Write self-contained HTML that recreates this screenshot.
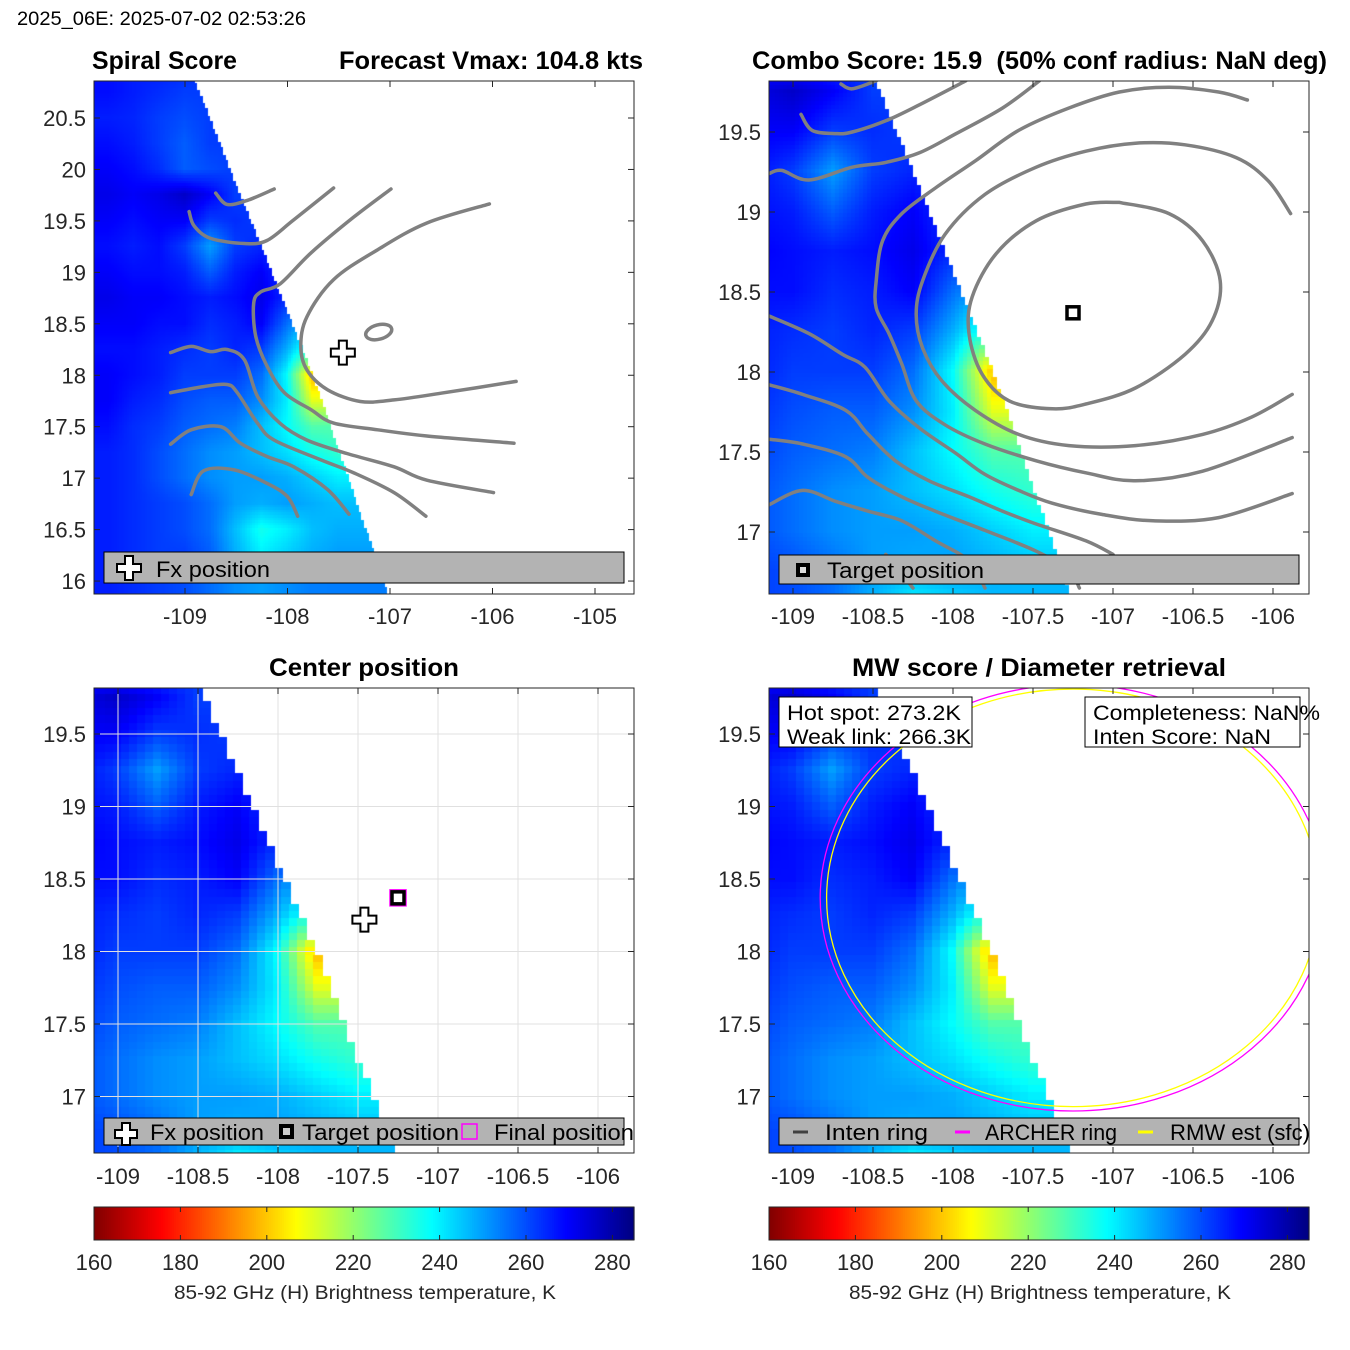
<!DOCTYPE html>
<html><head><meta charset="utf-8">
<style>
html,body{margin:0;padding:0;background:#fff;}
#wrap{position:relative;width:1350px;height:1350px;overflow:hidden;font-family:"Liberation Sans",sans-serif;}
canvas{position:absolute;}
svg{position:absolute;left:0;top:0;}
text{font-family:"Liberation Sans",sans-serif;}
</style></head>
<body>
<div id="wrap">
<canvas id="h1" style="left:94px;top:81px" width="540" height="513"></canvas>
<canvas id="h2" style="left:769px;top:81px" width="540" height="513"></canvas>
<canvas id="h3" style="left:94px;top:688px" width="540" height="465"></canvas>
<canvas id="h4" style="left:769px;top:688px" width="540" height="465"></canvas>
<svg id="s" width="1350" height="1350" xmlns="http://www.w3.org/2000/svg">
<defs>
<clipPath id="c1"><rect x="94" y="81" width="540" height="513"/></clipPath>
<clipPath id="c2"><rect x="769" y="81" width="540" height="513"/></clipPath>
<clipPath id="c3"><rect x="94" y="688" width="540" height="465"/></clipPath>
<clipPath id="c4"><rect x="769" y="688" width="540" height="465"/></clipPath>
</defs>
<text x="17" y="25" font-size="19" textLength="289" lengthAdjust="spacingAndGlyphs">2025_06E: 2025-07-02 02:53:26</text>
<text x="92" y="69" font-size="25" font-weight="bold" textLength="145" lengthAdjust="spacingAndGlyphs">Spiral Score</text>
<text x="339" y="69" font-size="25" font-weight="bold" textLength="304" lengthAdjust="spacingAndGlyphs">Forecast Vmax: 104.8 kts</text>
<text x="752" y="69" font-size="25" font-weight="bold" textLength="575" lengthAdjust="spacingAndGlyphs">Combo Score: 15.9&#160; (50% conf radius: NaN deg)</text>
<text x="269" y="676" font-size="25" font-weight="bold" textLength="190" lengthAdjust="spacingAndGlyphs">Center position</text>
<text x="852" y="676" font-size="25" font-weight="bold" textLength="374" lengthAdjust="spacingAndGlyphs">MW score / Diameter retrieval</text>
<g id="grid3"></g>
<g id="cont1" clip-path="url(#c1)"></g>
<g id="cont2" clip-path="url(#c2)"></g>
<g id="rings" clip-path="url(#c4)"></g>
<g id="ticks"></g>
<g id="marks"></g>
<rect x="94" y="81" width="540" height="513" fill="none" stroke="#262626" stroke-width="1"/>
<rect x="769" y="81" width="540" height="513" fill="none" stroke="#262626" stroke-width="1"/>
<rect x="94" y="688" width="540" height="465" fill="none" stroke="#262626" stroke-width="1"/>
<rect x="769" y="688" width="540" height="465" fill="none" stroke="#262626" stroke-width="1"/>

<g>
<rect x="104" y="552" width="520" height="31" fill="#b3b3b3" stroke="#000" stroke-width="1"/>
<path d="M125 556h8v8h8v8h-8v8h-8v-8h-8v-8h8z" fill="#fff" stroke="#000" stroke-width="2"/>
<text x="156" y="577" font-size="22" textLength="114" lengthAdjust="spacingAndGlyphs">Fx position</text>
</g>
<g>
<rect x="779" y="555" width="520" height="29" fill="#b3b3b3" stroke="#000" stroke-width="1"/>
<rect x="796" y="563" width="14" height="14" fill="#000"/><rect x="800" y="567" width="6" height="6" fill="#ddd"/>
<text x="827" y="578" font-size="22" textLength="157" lengthAdjust="spacingAndGlyphs">Target position</text>
</g>
<g>
<rect x="104" y="1118" width="520" height="27" fill="#b3b3b3" stroke="#000" stroke-width="1"/>
<path d="M122 1123h8v7h7v8h-7v7h-8v-7h-7v-8h7z" fill="#fff" stroke="#000" stroke-width="2"/>
<text x="150" y="1140" font-size="22" textLength="114" lengthAdjust="spacingAndGlyphs">Fx position</text>
<rect x="279" y="1124" width="15" height="15" fill="#000"/><rect x="283" y="1128" width="7" height="7" fill="#ccc"/>
<text x="302" y="1140" font-size="22" textLength="157" lengthAdjust="spacingAndGlyphs">Target position</text>
<rect x="462" y="1124" width="15" height="15" fill="none" stroke="#ff00ff" stroke-width="1.5"/>
<text x="494" y="1140" font-size="22" textLength="140" lengthAdjust="spacingAndGlyphs">Final position</text>
</g>
<g>
<rect x="779" y="1118" width="520" height="27" fill="#b3b3b3" stroke="#000" stroke-width="1"/>
<line x1="793" y1="1132" x2="808" y2="1132" stroke="#404040" stroke-width="3"/>
<text x="825" y="1140" font-size="22" textLength="103" lengthAdjust="spacingAndGlyphs">Inten ring</text>
<line x1="955" y1="1132" x2="970" y2="1132" stroke="#ff00ff" stroke-width="3"/>
<text x="985" y="1140" font-size="22" textLength="132" lengthAdjust="spacingAndGlyphs">ARCHER ring</text>
<line x1="1138" y1="1132" x2="1153" y2="1132" stroke="#ffff00" stroke-width="3"/>
<text x="1170" y="1140" font-size="22" textLength="140" lengthAdjust="spacingAndGlyphs">RMW est (sfc)</text>
</g>
<g>
<rect x="779" y="697" width="193" height="50" fill="#fff" stroke="#000" stroke-width="1"/>
<text x="787" y="720" font-size="21" textLength="174" lengthAdjust="spacingAndGlyphs">Hot spot: 273.2K</text>
<text x="787" y="744" font-size="21" textLength="184" lengthAdjust="spacingAndGlyphs">Weak link: 266.3K</text>
</g>
<g>
<rect x="1085" y="697" width="215" height="50" fill="#fff" stroke="#000" stroke-width="1"/>
<text x="1093" y="720" font-size="21" textLength="227" lengthAdjust="spacingAndGlyphs">Completeness: NaN%</text>
<text x="1093" y="744" font-size="21" textLength="178" lengthAdjust="spacingAndGlyphs">Inten Score: NaN</text>
</g>
<g id="cbars"></g>
<text x="174" y="1299" font-size="19" textLength="382" lengthAdjust="spacingAndGlyphs" fill="#262626">85-92 GHz (H) Brightness temperature, K</text>
<text x="849" y="1299" font-size="19" textLength="382" lengthAdjust="spacingAndGlyphs" fill="#262626">85-92 GHz (H) Brightness temperature, K</text>
</svg>
</div>
<script>
// ---- data ----
const gridLons = [-110,-109.75,-109.5,-109.25,-109,-108.75,-108.5,-108.25,-108,-107.75,-107.5,-107.25,-107];
const gridLats = [21,20.75,20.5,20.25,20,19.75,19.5,19.25,19,18.75,18.5,18.25,18,17.75,17.5,17.25,17,16.75,16.5,16.25,16];
const gridTemps = [
[268,268,266,266,265,264,264,264,264,264,264,264,264],
[268,268,266,264,262,262,262,262,262,262,262,262,262],
[266,266,265,262,260,262,262,262,262,262,262,262,262],
[268,268,266,262,258,262,262,262,262,262,262,262,262],
[270,270,268,264,258,260,262,262,262,262,262,262,262],
[272,272,270,272,276,270,262,262,262,262,262,262,262],
[270,270,268,270,270,262,264,262,262,262,262,262,262],
[268,268,266,268,262,250,262,265,262,262,262,262,262],
[270,270,268,268,266,258,266,270,262,260,260,260,260],
[272,272,270,270,268,266,268,272,264,258,258,258,258],
[270,270,270,268,268,264,266,270,256,244,244,244,244],
[268,268,268,266,264,262,265,262,248,230,230,230,230],
[270,270,268,266,262,262,262,256,238,198,198,198,198],
[270,270,266,264,260,258,258,252,240,210,210,210,210],
[268,268,264,262,258,256,254,246,238,228,228,228,228],
[266,266,264,260,256,252,250,246,242,236,232,232,232],
[266,266,264,260,256,252,250,250,248,244,240,240,240],
[266,266,264,262,260,256,250,248,250,248,246,246,246],
[266,266,264,262,260,256,246,236,240,246,248,248,248],
[266,266,264,262,262,258,248,240,244,248,250,250,250],
[266,266,264,262,260,256,252,250,252,254,254,254,254]];
const swathEdgeLats = [20.9,18.0,15.8];
const swathEdgeLons = [-108.93,-107.76,-107.0];
const cbarTicks = [160,180,200,220,240,260,280];
const cbarMin = 160, cbarMax = 285;
const p1XTicks = [-109,-108,-107,-106,-105];
const p1YTicks = [16,16.5,17,17.5,18,18.5,19,19.5,20,20.5];
const pXTicks = [-109,-108.5,-108,-107.5,-107,-106.5,-106];
const pYTicks = [17,17.5,18,18.5,19,19.5];
const fxLon = -107.46, fxLat = 18.22;
const targetLon = -107.25, targetLat = 18.37;
const archerRx = 1.58, archerRy = 1.47;
const rmwRx = 1.54, rmwRy = 1.44;
const spiralContours = [
[[-108.70,19.77],[-108.59,19.66],[-108.39,19.70],[-108.13,19.81]],
[[-108.96,19.59],[-108.91,19.45],[-108.75,19.33],[-108.42,19.28],[-108.20,19.31],[-107.94,19.51],[-107.55,19.82]],
[[-109.14,18.22],[-108.94,18.28],[-108.75,18.23],[-108.59,18.25],[-108.42,18.15],[-108.29,17.79],[-108.07,17.53],[-107.81,17.37],[-107.42,17.24],[-106.96,17.11],[-106.64,16.98],[-105.99,16.86]],
[[-109.14,17.83],[-108.82,17.89],[-108.59,17.91],[-108.49,17.83],[-108.29,17.53],[-108.13,17.37],[-107.68,17.18],[-107.35,17.05],[-106.96,16.86],[-106.65,16.63]],
[[-109.14,17.33],[-108.94,17.47],[-108.65,17.50],[-108.46,17.34],[-108.20,17.21],[-107.94,17.11],[-107.61,16.89],[-107.40,16.65]],
[[-108.94,16.84],[-108.82,17.07],[-108.52,17.08],[-108.20,16.95],[-108.00,16.82],[-107.90,16.63]],
[[-106.99,19.81],[-107.35,19.54],[-107.77,19.19],[-108.07,18.89],[-108.26,18.81],[-108.33,18.70],[-108.31,18.38],[-108.20,18.09],[-108.03,17.83],[-107.77,17.665],[-107.55,17.535],[-107.12,17.47],[-106.64,17.41],[-105.79,17.34]],
[[-106.03,19.665],[-106.64,19.48],[-107.12,19.22],[-107.55,18.93],[-107.81,18.57],[-107.87,18.28],[-107.81,18.05],[-107.61,17.86],[-107.29,17.745],[-106.96,17.76],[-106.47,17.83],[-105.77,17.94]]];
const spiralBlob = [-107.11,18.42,0.13,0.07];
const comboContours = [
[[-108.70,19.80],[-108.63,19.77],[-108.48,19.82]],
[[-108.95,19.61],[-108.88,19.51],[-108.73,19.49],[-108.63,19.50],[-108.42,19.57],[-108.21,19.67],[-107.92,19.82]],
[[-109.15,19.24],[-109.07,19.26],[-108.90,19.20],[-108.63,19.28],[-108.42,19.31],[-108.21,19.37],[-107.98,19.49],[-107.69,19.65],[-107.46,19.82]],
[[-106.16,19.70],[-106.34,19.75],[-106.65,19.78],[-106.96,19.75],[-107.275,19.65],[-107.59,19.51],[-107.86,19.32],[-108.11,19.15],[-108.32,18.99],[-108.44,18.82],[-108.48,18.57],[-108.48,18.40],[-108.40,18.24],[-108.32,18.05],[-108.23,17.82],[-108.05,17.67],[-107.80,17.55],[-107.48,17.445],[-107.17,17.37],[-106.86,17.32],[-106.44,17.38],[-105.88,17.59]],
[[-105.89,18.99],[-106.03,19.195],[-106.23,19.34],[-106.55,19.42],[-106.86,19.43],[-107.17,19.38],[-107.48,19.28],[-107.80,19.11],[-108.05,18.86],[-108.19,18.57],[-108.23,18.36],[-108.19,18.15],[-108.07,17.945],[-107.86,17.76],[-107.59,17.61],[-107.275,17.54],[-106.86,17.54],[-106.44,17.61],[-106.13,17.72],[-105.88,17.86]],
[[-106.96,19.06],[-106.65,18.99],[-106.44,18.82],[-106.33,18.57],[-106.38,18.32],[-106.55,18.11],[-106.86,17.90],[-107.17,17.80],[-107.38,17.77],[-107.65,17.82],[-107.82,17.99],[-107.90,18.24],[-107.88,18.47],[-107.73,18.74],[-107.48,18.945],[-107.17,19.05],[-106.96,19.06]],
[[-109.15,18.35],[-108.90,18.24],[-108.69,18.11],[-108.55,18.03],[-108.40,17.82],[-108.21,17.65],[-107.98,17.49],[-107.80,17.36],[-107.59,17.26],[-107.38,17.18],[-107.07,17.11],[-106.75,17.07],[-106.34,17.09],[-105.88,17.24]],
[[-109.15,17.92],[-108.94,17.86],[-108.67,17.76],[-108.53,17.61],[-108.36,17.445],[-108.15,17.32],[-107.90,17.22],[-107.69,17.13],[-107.48,17.05],[-107.17,16.945],[-107.00,16.86]],
[[-109.15,17.58],[-108.94,17.55],[-108.67,17.47],[-108.53,17.34],[-108.32,17.22],[-108.11,17.13],[-107.80,17.01],[-107.48,16.88],[-107.275,16.76],[-107.21,16.65]],
[[-109.15,17.17],[-108.94,17.26],[-108.73,17.19],[-108.53,17.13],[-108.32,17.07],[-108.11,16.945],[-107.90,16.82],[-107.80,16.65]],
[[-108.42,16.86],[-108.25,16.65]]];

// ---- axes ----
const A1 = {x:l=>185+(l+109)*102.5, y:t=>118+(20.5-t)*102.9, L:94,T:81,W:540,H:513};
const A2 = {x:l=>793+(l+109)*160, y:t=>132+(19.5-t)*160, L:769,T:81,W:540,H:513};
const A3 = {x:l=>118+(l+109)*160, y:t=>734+(19.5-t)*145, L:94,T:688,W:540,H:465};
const A4 = {x:l=>793+(l+109)*160, y:t=>734+(19.5-t)*145, L:769,T:688,W:540,H:465};
const NS = 'http://www.w3.org/2000/svg';

function jet(T){
  const v = 1-(T-cbarMin)/(cbarMax-cbarMin);
  const c = z=>Math.round(255*Math.max(0,Math.min(1,z)));
  return 'rgb('+c(Math.min(4*v-1.5,-4*v+4.5))+','+c(Math.min(4*v-0.5,-4*v+3.5))+','+c(Math.min(4*v+0.5,-4*v+2.5))+')';
}
function tempAt(lon,lat){
  let i=(gridLats[0]-lat)/0.25, j=(lon-gridLons[0])/0.25;
  i=Math.max(0,Math.min(gridLats.length-1.001,i)); j=Math.max(0,Math.min(gridLons.length-1.001,j));
  const i0=Math.floor(i), j0=Math.floor(j), fi=i-i0, fj=j-j0;
  const g=gridTemps;
  return g[i0][j0]*(1-fi)*(1-fj)+g[i0][j0+1]*(1-fi)*fj+g[i0+1][j0]*fi*(1-fj)+g[i0+1][j0+1]*fi*fj;
}
function edgeLon(lat){
  if(lat>=swathEdgeLats[1]){const f=(swathEdgeLats[0]-lat)/(swathEdgeLats[0]-swathEdgeLats[1]);return swathEdgeLons[0]+f*(swathEdgeLons[1]-swathEdgeLons[0]);}
  const f=(swathEdgeLats[1]-lat)/(swathEdgeLats[1]-swathEdgeLats[2]);return swathEdgeLons[1]+f*(swathEdgeLons[2]-swathEdgeLons[1]);
}
function heat(id,A,step,latTop){
  const ctx=document.getElementById(id).getContext('2d');
  for(let lat=latTop; lat>15.7; lat-=step){
    if(lat>swathEdgeLats[0]) continue;
    for(let lon=-110.2; lon<edgeLon(lat); lon+=step){
      const x0=A.x(lon-step/2)-A.L, x1=A.x(lon+step/2)-A.L;
      const y0=A.y(lat+step/2)-A.T, y1=A.y(lat-step/2)-A.T;
      if(x1<0||x0>A.W||y1<0||y0>A.H) continue;
      ctx.fillStyle=jet(tempAt(lon,lat));
      ctx.fillRect(Math.floor(x0),Math.floor(y0),Math.ceil(x1-x0)+1,Math.ceil(y1-y0)+1);
    }
  }
}
heat('h1',A1,0.025,20.9);
heat('h2',A2,0.025,20.9);
heat('h3',A3,0.05,19.85);
heat('h4',A4,0.05,19.85);

function mk(tag,parent,attrs){
  const el=document.createElementNS(NS,tag);
  for(const k in attrs) el.setAttribute(k,attrs[k]);
  parent.appendChild(el); return el;
}
function smoothPath(P){
  let d='M'+P[0][0].toFixed(1)+' '+P[0][1].toFixed(1);
  for(let i=0;i<P.length-1;i++){
    const p0=P[Math.max(0,i-1)], p1=P[i], p2=P[i+1], p3=P[Math.min(P.length-1,i+2)];
    const c1x=p1[0]+(p2[0]-p0[0])/6, c1y=p1[1]+(p2[1]-p0[1])/6;
    const c2x=p2[0]-(p3[0]-p1[0])/6, c2y=p2[1]-(p3[1]-p1[1])/6;
    d+=' C'+c1x.toFixed(1)+' '+c1y.toFixed(1)+' '+c2x.toFixed(1)+' '+c2y.toFixed(1)+' '+p2[0].toFixed(1)+' '+p2[1].toFixed(1);
  }
  return d;
}
function drawContours(gid,A,lines){
  const g=document.getElementById(gid);
  lines.forEach(pts=>{
    const P=pts.map(p=>[A.x(p[0]),A.y(p[1])]);
    const el=mk('path',g,{d:smoothPath(P),fill:'none',stroke:'#808080','stroke-width':3.5,'stroke-linejoin':'round','stroke-linecap':'round'});
    
    
  });
}
drawContours('cont1',A1,spiralContours);
drawContours('cont2',A2,comboContours);
{
  const g=document.getElementById('cont1');
  const cx=A1.x(spiralBlob[0]), cy=A1.y(spiralBlob[1]);
  const el=mk('ellipse',g,{cx:cx,cy:cy,rx:spiralBlob[2]*102.5,ry:spiralBlob[3]*102.9,fill:'none',stroke:'#808080','stroke-width':3.5,transform:'rotate(-15 '+cx+' '+cy+')'});
  
  
}
// rings
{
  const g=document.getElementById('rings');
  const cx=A4.x(targetLon), cy=A4.y(targetLat);
  const m=mk('ellipse',g,{cx:cx,cy:cy,rx:A4.x(targetLon+archerRx)-cx,ry:A4.y(targetLat-archerRy)-cy,fill:'none',stroke:'#ff00ff','stroke-width':1.3});
  
  
  const y=mk('ellipse',g,{cx:cx,cy:cy,rx:A4.x(targetLon+rmwRx)-cx,ry:A4.y(targetLat-rmwRy)-cy,fill:'none',stroke:'#ffff00','stroke-width':1.3});
  
  
}
// grid panel 3
{
  const g=document.getElementById('grid3');
  pXTicks.forEach(v=>{const el=mk('line',g,{x1:A3.x(v),x2:A3.x(v),y1:688,y2:1153,stroke:'#e0e0e0','stroke-width':1});
    
    });
  pYTicks.forEach(v=>{const el=mk('line',g,{x1:94,x2:634,y1:A3.y(v),y2:A3.y(v),stroke:'#e0e0e0','stroke-width':1});
    
    });
}
// ticks
function axisTicks(A,xt,yt,labY,labX){
  const g=document.getElementById('ticks');
  xt.forEach(v=>{
    const x=A.x(v);
    mk('line',g,{x1:x,x2:x,y1:A.T+A.H,y2:A.T+A.H-6,stroke:'#262626'});
    mk('line',g,{x1:x,x2:x,y1:A.T,y2:A.T+6,stroke:'#262626'});
    const t=mk('text',g,{x:x,y:labY,'font-size':22,'text-anchor':'middle',fill:'#262626'});
    t.textContent=String(v);
    
    
  });
  yt.forEach(v=>{
    const y=A.y(v);
    mk('line',g,{x1:A.L,x2:A.L+6,y1:y,y2:y,stroke:'#262626'});
    mk('line',g,{x1:A.L+A.W,x2:A.L+A.W-6,y1:y,y2:y,stroke:'#262626'});
    const t=mk('text',g,{x:labX,y:y+8,'font-size':22,'text-anchor':'end',fill:'#262626'});
    t.textContent=String(v);
    
    
  });
}
axisTicks(A1,p1XTicks,p1YTicks,624,86);
axisTicks(A2,pXTicks,pYTicks,624,761);
axisTicks(A3,pXTicks,pYTicks,1184,86);
axisTicks(A4,pXTicks,pYTicks,1184,761);
// markers
function fxCross(x,y){
  const g=document.getElementById('marks');
  const el=mk('path',g,{d:'M'+(x-4)+' '+(y-12)+'h8v8h8v8h-8v8h-8v-8h-8v-8h8z',fill:'#fff',stroke:'#000','stroke-width':2});
  
  
}
function target(x,y){
  const g=document.getElementById('marks');
  const el=mk('rect',g,{x:x-6,y:y-6,width:12,height:12,fill:'#fff',stroke:'#000','stroke-width':3.5});
  
  
}
fxCross(A1.x(fxLon),A1.y(fxLat));
target(A2.x(targetLon),A2.y(targetLat));
fxCross(A3.x(fxLon),A3.y(fxLat));
{
  const g=document.getElementById('marks');
  const x=A3.x(targetLon), y=A3.y(targetLat);
  const f=mk('rect',g,{x:x-8,y:y-8,width:16,height:16,fill:'none',stroke:'#ff00ff','stroke-width':1.5});
  
  
  target(x,y);
}
// colorbars
function cbar(L){
  const g=document.getElementById('cbars');
  const W=540, sx=W/(cbarMax-cbarMin);
  for(let T=cbarMin; T<cbarMax; T+=0.5){
    const r=mk('rect',g,{x:(L+(T-cbarMin)*sx).toFixed(2),y:1207,width:(sx*0.5+0.6).toFixed(2),height:33,fill:jet(T+0.25)});
    
    
  }
  mk('rect',g,{x:L,y:1207,width:W,height:33,fill:'none',stroke:'#262626'});
  cbarTicks.forEach(v=>{
    const x=L+(v-cbarMin)*sx;
    mk('line',g,{x1:x,x2:x,y1:1240,y2:1235,stroke:'#262626'});
    mk('line',g,{x1:x,x2:x,y1:1207,y2:1212,stroke:'#262626'});
    const t=mk('text',g,{x:x,y:1270,'font-size':22,'text-anchor':'middle',fill:'#262626'});
    t.textContent=String(v);
    
    
  });
}
cbar(94); cbar(769);
</script>
</body></html>
